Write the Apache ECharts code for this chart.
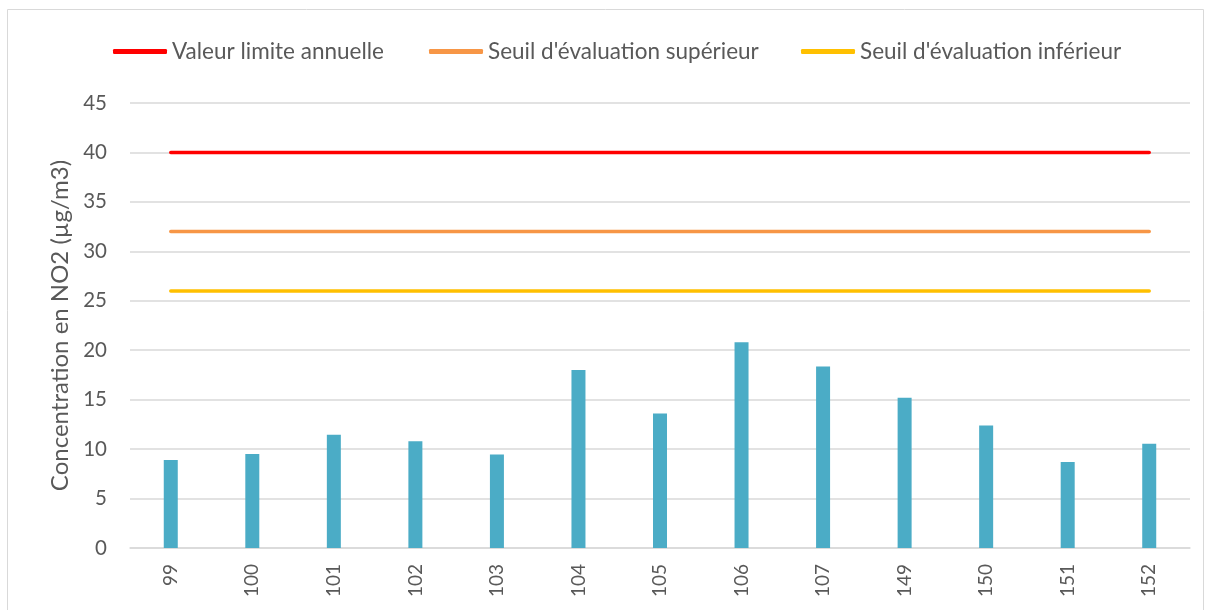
<!DOCTYPE html>
<html>
<head>
<meta charset="utf-8">
<script src="https://cdn.jsdelivr.net/npm/echarts@6/dist/echarts.min.js"></script>
<style>
  html, body { margin: 0; padding: 0; background: #fff; }
  #chart { width: 1208px; height: 610px; }
</style>
</head>
<body>
<div id="chart"></div>
<script>
(function () {
    // données
    var sites = ["99", "100", "101", "102", "103", "104", "105", "106", "107", "149", "150", "151", "152"];
    var no2 = [8.9, 9.5, 11.45, 10.8, 9.45, 18.0, 13.6, 20.8, 18.35, 15.2, 12.4, 8.7, 10.55];
    var valeurLimite = 40;
    var seuilSup = 32;
    var seuilInf = 26;

    function flat(v) {
        return sites.map(function () { return v; });
    }

    var myChart = echarts.init(document.getElementById("chart"));
    var font = "Lato, 'Open Sans', sans-serif";

    // une légende par série pour caler les positions
    function leg(name, left) {
        return {
            top: 35,
            left: left,
            itemWidth: 54,
            itemHeight: 5,
            icon: "roundRect",
            textStyle: { fontSize: 22.5, color: "#595959", fontFamily: font },
            data: [name]
        };
    }

    var option = {
        animation: false,
        textStyle: { fontFamily: font },
        graphic: [{
            type: "rect",
            shape: { x: 7.5, y: 9.5, width: 1196, height: 610 },
            style: { fill: "none", stroke: "#d9d9d9", lineWidth: 1 },
            silent: true
        }],
        legend: [
            leg("Valeur limite annuelle", 108),
            leg("Seuil d'évaluation supérieur", 424),
            leg("Seuil d'évaluation inférieur", 796)
        ],
        grid: { left: 130, right: 18, top: 103, bottom: 62 },
        xAxis: {
            type: "category",
            data: sites,
            axisLine: { lineStyle: { color: "#d9d9d9", width: 1.5 } },
            axisTick: { show: false },
            axisLabel: { rotate: 90, fontSize: 19, color: "#595959", margin: 16, fontFamily: font }
        },
        yAxis: {
            type: "value",
            min: 0,
            max: 45,
            interval: 5,
            name: "Concentration en NO2 (µg/m3)",
            nameLocation: "middle",
            nameGap: 58,
            nameTextStyle: { fontSize: 24, color: "#595959", fontFamily: font },
            axisLine: { show: false },
            axisTick: { show: false },
            axisLabel: { fontSize: 20.5, color: "#595959", margin: 23, fontFamily: font },
            splitLine: { lineStyle: { color: "#d9d9d9", width: 1.5 } }
        },
        series: [
            {
                name: "NO2",
                type: "bar",
                data: no2,
                barWidth: 14,
                itemStyle: { color: "#4BACC6" },
                z: 2
            },
            {
                name: "Valeur limite annuelle",
                type: "line",
                data: flat(valeurLimite),
                symbol: "none",
                lineStyle: { color: "#FF0000", width: 3.5, cap: "round" },
                itemStyle: { color: "#FF0000" },
                z: 3
            },
            {
                name: "Seuil d'évaluation supérieur",
                type: "line",
                data: flat(seuilSup),
                symbol: "none",
                lineStyle: { color: "#F79646", width: 3.5, cap: "round" },
                itemStyle: { color: "#F79646" },
                z: 3
            },
            {
                name: "Seuil d'évaluation inférieur",
                type: "line",
                data: flat(seuilInf),
                symbol: "none",
                lineStyle: { color: "#FFC000", width: 3.5, cap: "round" },
                itemStyle: { color: "#FFC000" },
                z: 3
            }
        ]
    };
    myChart.setOption(option);
})();
</script>
</body>
</html>
